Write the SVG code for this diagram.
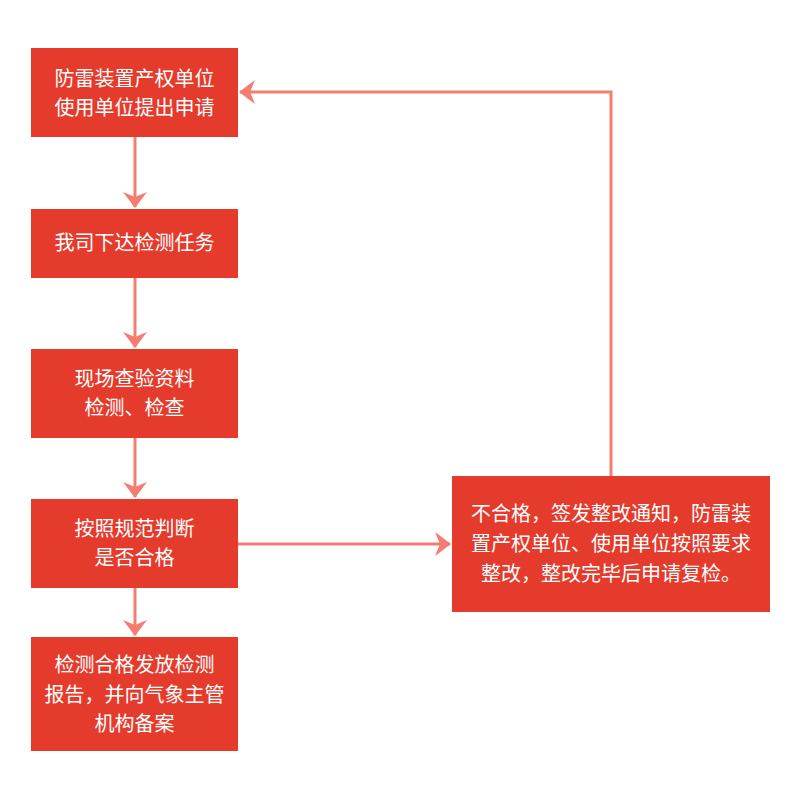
<svg xmlns="http://www.w3.org/2000/svg" width="800" height="800" viewBox="0 0 800 800">
<style>
.box{fill:#E53B2C;}
.t{font-family:"Noto Sans CJK SC","Noto Sans",sans-serif;font-size:20px;fill:#FFFFFF;text-anchor:middle;}
.c{fill:none;stroke:#F47D70;stroke-width:3;}
</style>
<defs>
<marker id="ah" markerUnits="userSpaceOnUse" markerWidth="16" markerHeight="24" viewBox="0 0 16 24" refX="15" refY="12" orient="auto">
<path d="M16,12 L0,0 L5,12 L0,24 Z" fill="#F47D70"/>
</marker>
</defs>
<rect width="800" height="800" fill="#FFFFFF"/>
<g id="connectors">
<line class="c" x1="135" y1="137" x2="135" y2="207" marker-end="url(#ah)"/>
<line class="c" x1="135" y1="278" x2="135" y2="347" marker-end="url(#ah)"/>
<line class="c" x1="135" y1="438" x2="135" y2="497" marker-end="url(#ah)"/>
<line class="c" x1="135" y1="588" x2="135" y2="635" marker-end="url(#ah)"/>
<line class="c" x1="238" y1="544" x2="450" y2="544" marker-end="url(#ah)"/>
<polyline class="c" points="611,476 611,92 240,92" marker-end="url(#ah)"/>
</g>
<g id="n1">
<rect class="box" x="31" y="48" width="207" height="89"/>
<text class="t" x="134.5" y="86">防雷装置产权单位</text>
<text class="t" x="134.5" y="115">使用单位提出申请</text>
</g>
<g id="n2">
<rect class="box" x="31" y="209" width="207" height="69"/>
<text class="t" x="134.5" y="250">我司下达检测任务</text>
</g>
<g id="n3">
<rect class="box" x="31" y="349" width="207" height="89"/>
<text class="t" x="134.5" y="386">现场查验资料</text>
<text class="t" x="134.5" y="415">检测、检查</text>
</g>
<g id="n4">
<rect class="box" x="31" y="499" width="207" height="89"/>
<text class="t" x="134.5" y="536">按照规范判断</text>
<text class="t" x="134.5" y="565">是否合格</text>
</g>
<g id="n5">
<rect class="box" x="31" y="637" width="207" height="114"/>
<text class="t" x="134.5" y="672">检测合格发放检测</text>
<text class="t" x="134.5" y="702">报告，并向气象主管</text>
<text class="t" x="134.5" y="731">机构备案</text>
</g>
<g id="n6">
<rect class="box" x="452" y="476" width="318" height="136"/>
<text class="t" x="611" y="521">不合格，签发整改通知，防雷装</text>
<text class="t" x="611" y="551">置产权单位、使用单位按照要求</text>
<text class="t" x="611" y="581">整改，整改完毕后申请复检。</text>
</g>
</svg>
